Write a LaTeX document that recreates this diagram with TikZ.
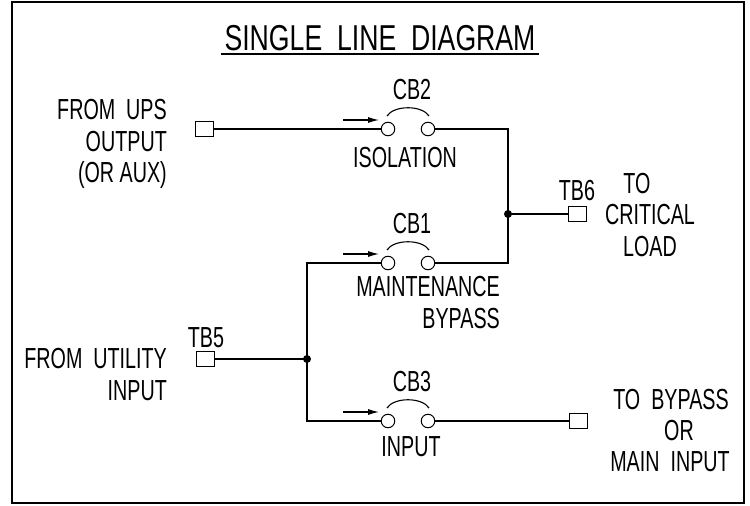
\documentclass[tikz,border=0pt]{standalone}
\usepackage{fontspec}
\setmainfont{Liberation Sans}[FakeStretch=0.68]
\newfontfamily\titlefont{Liberation Sans}[FakeStretch=0.74]
\usetikzlibrary{arrows.meta,calc}
\newcommand\brkr[3]{%
  \node[term] (#1l) at (388,#2) {};
  \node[term] (#1r) at (428,#2) {};
  \coordinate (#1p) at (387,{#2-13});
  \coordinate (#1q) at (429,{#2-13});
  \draw[wire] (#1p) .. controls +(7,-11) and +(-7,-11) .. (#1q);
  \coordinate (#1a) at (343,{#2-9});
  \coordinate (#1b) at (379,{#2-9});
  \draw[feed] (#1a) -- (#1b);
  \node[lbl, anchor=base] (#1n) at (412,{#2-30}) {#3};
}
\begin{document}
\begin{tikzpicture}[x=1pt,y=-1pt,
  wire/.style={line width=1.1pt},
  term/.style={draw, circle, minimum size=13.5pt, inner sep=0pt, line width=1pt},
  tbox/.style={draw, rectangle, minimum width=18pt, minimum height=15pt, inner sep=0pt, line width=1pt},
  dot/.style={circle, fill, minimum size=8pt, inner sep=0pt},
  lbl/.style={inner sep=0pt, font=\fontsize{29}{31}\selectfont},
  feed/.style={line width=1.2pt, -{Latex[length=11pt,width=6pt]}},
]
\useasboundingbox (0,0) rectangle (750,506);
\draw[line width=1.6pt] (12,2) rectangle (744,503);

% title
\node[inner sep=0pt, anchor=base, font=\titlefont\fontsize{36}{38}\selectfont] (title) at (380,50) {SINGLE\ \ LINE\ \ DIAGRAM};
\draw[line width=1.3pt] ($(title.base west)+(-3,4)$) -- ($(title.base east)+(3,4)$);

% breakers
\brkr{cbtwo}{129}{CB2}
\brkr{cbone}{263}{CB1}
\brkr{cbthree}{421}{CB3}

\node[lbl, anchor=base] (iso) at (405,167) {ISOLATION};
\node[lbl, anchor=base east] (mnt) at (500,296) {MAINTENANCE};
\node[lbl, anchor=base east] (byp) at (500,328) {BYPASS};
\node[lbl, anchor=base] (inp) at (411,456) {INPUT};

% terminals
\node[tbox] (ups) at (204,129) {};
\node[tbox] (tbfive) at (205,359) {};
\node[tbox] (tbsix) at (577,214) {};
\node[tbox] (byout) at (578,421) {};

% junction dots
\node[dot] (jr) at (508,214) {};
\node[dot] (jl) at (307,359) {};

% wires
\draw[wire] (ups.east) -- (cbtwol.west);
\draw[wire] (cbtwor.east) -| (jr.center) |- (cboner.east);
\draw[wire] (jr.center) -- (tbsix.west);
\draw[wire] (cbonel.west) -| (jl.center) |- (cbthreel.west);
\draw[wire] (tbfive.east) -- (jl.center);
\draw[wire] (cbthreer.east) -- (byout.west);

% terminal labels
\node[lbl, anchor=base] (tbsixl) at (577,200) {TB6};
\node[lbl, anchor=base] (tbfivel) at (206,347) {TB5};

% side texts
\node[lbl, anchor=base east] (u1) at (167,119) {FROM\ \ UPS};
\node[lbl, anchor=base east] (u2) at (167,151) {OUTPUT};
\node[lbl, anchor=base east] (u3) at (167,182) {(OR AUX)};
\node[lbl, anchor=base east] (f1) at (167,368) {FROM\ \ UTILITY};
\node[lbl, anchor=base east] (f2) at (167,400) {INPUT};

\node[lbl, anchor=base] (t1) at (637,193) {TO};
\node[lbl, anchor=base] (t2) at (650,224) {CRITICAL};
\node[lbl, anchor=base] (t3) at (650,256) {LOAD};

\node[lbl, anchor=base] (b1) at (671,409) {TO\ \ BYPASS};
\node[lbl, anchor=base] (b2) at (679,440) {OR};
\node[lbl, anchor=base] (b3) at (670,471) {MAIN\ \ INPUT};
\end{tikzpicture}
\end{document}
